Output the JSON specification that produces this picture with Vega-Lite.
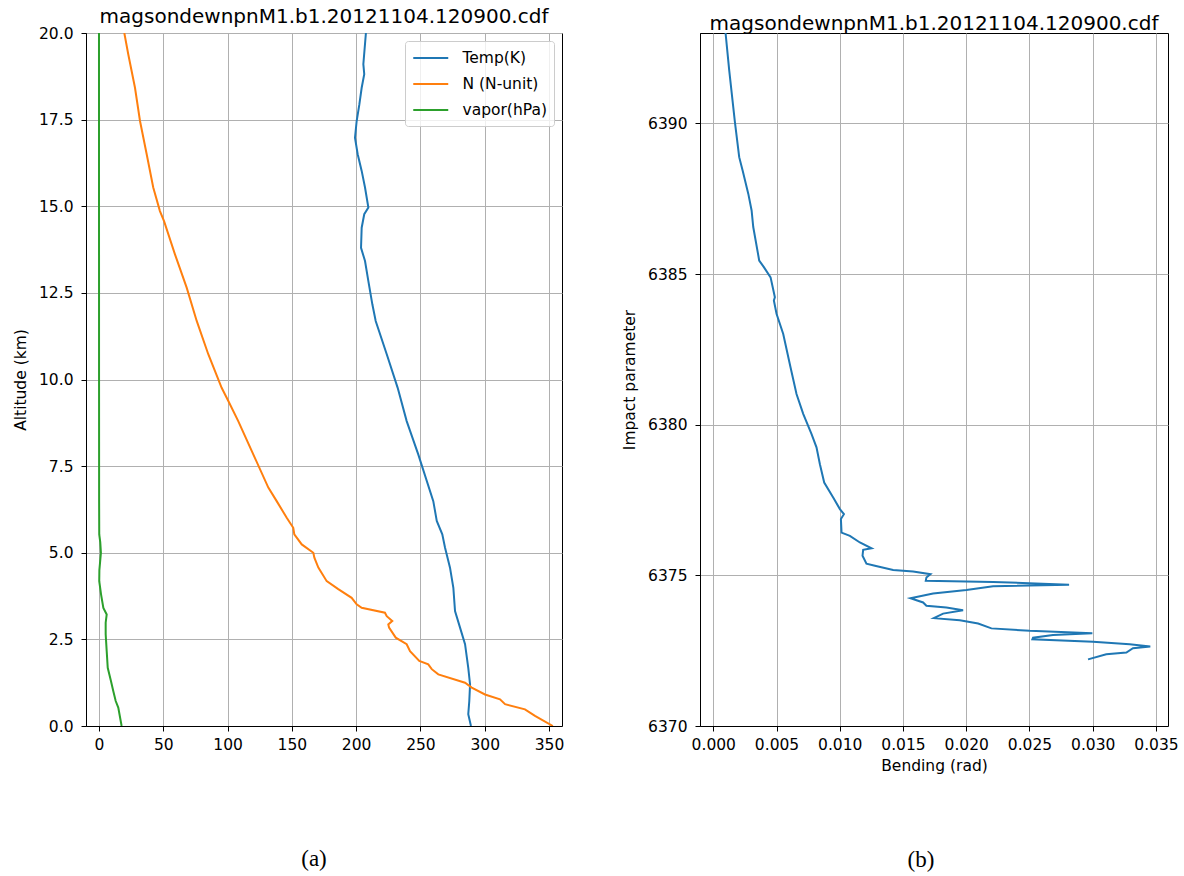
{
  "$schema": "https://vega.github.io/schema/vega-lite/v6.json",
  "padding": {"left": 12, "top": 6, "right": 5, "bottom": 5},
  "background": "white",
  "spacing": 57,
  "config": {
    "view": {"stroke": "black", "strokeWidth": 1},
    "axis": {
      "grid": true, "gridColor": "#b0b0b0", "gridWidth": 1, "gridOpacity": 1,
      "domainColor": "black", "domainWidth": 1,
      "tickColor": "black", "tickSize": 5, "tickWidth": 1,
      "labelFont": "DejaVu Sans", "labelFontSize": 15.5, "labelColor": "black",
      "labelFlush": false, "labelOverlap": false,
      "titleFont": "DejaVu Sans", "titleFontSize": 15.5, "titleFontWeight": "normal", "titleColor": "black", "titlePadding": 10
    },
    "axisX": {"labelPadding": 6, "titlePadding": 6},
    "axisY": {"labelPadding": 8}
  },
  "datasets": {
    "profile": [
      {"series": "Temp(K)", "alt": 0.0, "value": 289.3},
      {"series": "Temp(K)", "alt": 0.34, "value": 287.2},
      {"series": "Temp(K)", "alt": 0.72, "value": 288.0},
      {"series": "Temp(K)", "alt": 1.2, "value": 288.6},
      {"series": "Temp(K)", "alt": 1.68, "value": 287.2},
      {"series": "Temp(K)", "alt": 2.36, "value": 284.7},
      {"series": "Temp(K)", "alt": 2.84, "value": 280.8},
      {"series": "Temp(K)", "alt": 3.32, "value": 276.9},
      {"series": "Temp(K)", "alt": 3.99, "value": 275.6},
      {"series": "Temp(K)", "alt": 4.57, "value": 273.0},
      {"series": "Temp(K)", "alt": 5.15, "value": 269.1},
      {"series": "Temp(K)", "alt": 5.53, "value": 267.0},
      {"series": "Temp(K)", "alt": 5.92, "value": 262.7},
      {"series": "Temp(K)", "alt": 6.49, "value": 260.0},
      {"series": "Temp(K)", "alt": 7.84, "value": 248.3},
      {"series": "Temp(K)", "alt": 8.8, "value": 239.3},
      {"series": "Temp(K)", "alt": 9.76, "value": 232.3},
      {"series": "Temp(K)", "alt": 10.73, "value": 223.8},
      {"series": "Temp(K)", "alt": 11.69, "value": 215.2},
      {"series": "Temp(K)", "alt": 12.17, "value": 212.6},
      {"series": "Temp(K)", "alt": 12.84, "value": 209.5},
      {"series": "Temp(K)", "alt": 13.42, "value": 206.9},
      {"series": "Temp(K)", "alt": 13.8, "value": 203.8},
      {"series": "Temp(K)", "alt": 14.38, "value": 204.3},
      {"series": "Temp(K)", "alt": 14.77, "value": 206.3},
      {"series": "Temp(K)", "alt": 14.96, "value": 209.5},
      {"series": "Temp(K)", "alt": 15.54, "value": 206.9},
      {"series": "Temp(K)", "alt": 16.02, "value": 204.3},
      {"series": "Temp(K)", "alt": 16.5, "value": 201.2},
      {"series": "Temp(K)", "alt": 16.98, "value": 199.1},
      {"series": "Temp(K)", "alt": 17.46, "value": 200.4},
      {"series": "Temp(K)", "alt": 17.94, "value": 202.5},
      {"series": "Temp(K)", "alt": 18.42, "value": 204.3},
      {"series": "Temp(K)", "alt": 18.81, "value": 206.3},
      {"series": "Temp(K)", "alt": 19.1, "value": 205.6},
      {"series": "Temp(K)", "alt": 20.0, "value": 207.6},
      {"series": "N (N-unit)", "alt": 0.0, "value": 353.0},
      {"series": "N (N-unit)", "alt": 0.29, "value": 339.1},
      {"series": "N (N-unit)", "alt": 0.48, "value": 331.3},
      {"series": "N (N-unit)", "alt": 0.63, "value": 315.8},
      {"series": "N (N-unit)", "alt": 0.77, "value": 311.9},
      {"series": "N (N-unit)", "alt": 0.91, "value": 300.2},
      {"series": "N (N-unit)", "alt": 1.11, "value": 289.9},
      {"series": "N (N-unit)", "alt": 1.25, "value": 284.7},
      {"series": "N (N-unit)", "alt": 1.49, "value": 263.9},
      {"series": "N (N-unit)", "alt": 1.64, "value": 258.8},
      {"series": "N (N-unit)", "alt": 1.78, "value": 256.1},
      {"series": "N (N-unit)", "alt": 1.88, "value": 249.1},
      {"series": "N (N-unit)", "alt": 2.16, "value": 241.9},
      {"series": "N (N-unit)", "alt": 2.36, "value": 239.3},
      {"series": "N (N-unit)", "alt": 2.55, "value": 230.8},
      {"series": "N (N-unit)", "alt": 2.84, "value": 225.6},
      {"series": "N (N-unit)", "alt": 2.93, "value": 225.0},
      {"series": "N (N-unit)", "alt": 3.03, "value": 228.1},
      {"series": "N (N-unit)", "alt": 3.17, "value": 223.8},
      {"series": "N (N-unit)", "alt": 3.27, "value": 222.4},
      {"series": "N (N-unit)", "alt": 3.41, "value": 204.3},
      {"series": "N (N-unit)", "alt": 3.51, "value": 200.4},
      {"series": "N (N-unit)", "alt": 3.7, "value": 196.5},
      {"series": "N (N-unit)", "alt": 3.95, "value": 186.1},
      {"series": "N (N-unit)", "alt": 4.18, "value": 177.1},
      {"series": "N (N-unit)", "alt": 4.57, "value": 170.6},
      {"series": "N (N-unit)", "alt": 4.86, "value": 167.5},
      {"series": "N (N-unit)", "alt": 5.0, "value": 166.7},
      {"series": "N (N-unit)", "alt": 5.24, "value": 157.7},
      {"series": "N (N-unit)", "alt": 5.53, "value": 151.9},
      {"series": "N (N-unit)", "alt": 5.72, "value": 151.1},
      {"series": "N (N-unit)", "alt": 6.01, "value": 146.0},
      {"series": "N (N-unit)", "alt": 6.49, "value": 138.2},
      {"series": "N (N-unit)", "alt": 6.88, "value": 131.7},
      {"series": "N (N-unit)", "alt": 7.84, "value": 120.0},
      {"series": "N (N-unit)", "alt": 8.8, "value": 108.3},
      {"series": "N (N-unit)", "alt": 9.38, "value": 100.6},
      {"series": "N (N-unit)", "alt": 9.76, "value": 95.4},
      {"series": "N (N-unit)", "alt": 10.73, "value": 85.0},
      {"series": "N (N-unit)", "alt": 11.69, "value": 76.0},
      {"series": "N (N-unit)", "alt": 12.65, "value": 68.2},
      {"series": "N (N-unit)", "alt": 13.61, "value": 59.1},
      {"series": "N (N-unit)", "alt": 14.57, "value": 50.6},
      {"series": "N (N-unit)", "alt": 14.86, "value": 47.4},
      {"series": "N (N-unit)", "alt": 15.54, "value": 42.2},
      {"series": "N (N-unit)", "alt": 16.5, "value": 37.1},
      {"series": "N (N-unit)", "alt": 17.46, "value": 31.9},
      {"series": "N (N-unit)", "alt": 18.42, "value": 28.0},
      {"series": "N (N-unit)", "alt": 19.38, "value": 22.8},
      {"series": "N (N-unit)", "alt": 20.0, "value": 19.7},
      {"series": "vapor(hPa)", "alt": 0.0, "value": 17.6},
      {"series": "vapor(hPa)", "alt": 0.53, "value": 15.0},
      {"series": "vapor(hPa)", "alt": 0.72, "value": 13.0},
      {"series": "vapor(hPa)", "alt": 1.01, "value": 11.1},
      {"series": "vapor(hPa)", "alt": 1.3, "value": 9.3},
      {"series": "vapor(hPa)", "alt": 1.68, "value": 6.8},
      {"series": "vapor(hPa)", "alt": 2.16, "value": 6.0},
      {"series": "vapor(hPa)", "alt": 2.65, "value": 5.2},
      {"series": "vapor(hPa)", "alt": 2.98, "value": 5.2},
      {"series": "vapor(hPa)", "alt": 3.22, "value": 6.0},
      {"series": "vapor(hPa)", "alt": 3.41, "value": 3.4},
      {"series": "vapor(hPa)", "alt": 3.8, "value": 1.6},
      {"series": "vapor(hPa)", "alt": 4.18, "value": 0.2},
      {"series": "vapor(hPa)", "alt": 4.5, "value": 0.3},
      {"series": "vapor(hPa)", "alt": 5.0, "value": 1.5},
      {"series": "vapor(hPa)", "alt": 5.3, "value": 1.0},
      {"series": "vapor(hPa)", "alt": 5.53, "value": 0.2},
      {"series": "vapor(hPa)", "alt": 6.49, "value": 0.1},
      {"series": "vapor(hPa)", "alt": 10.0, "value": 0.05},
      {"series": "vapor(hPa)", "alt": 20.0, "value": 0.0}
    ],
    "bending": [
      {"i": 1, "impact": 6393.0, "bending": 0.00097},
      {"i": 2, "impact": 6391.76, "bending": 0.00126},
      {"i": 3, "impact": 6390.04, "bending": 0.00171},
      {"i": 4, "impact": 6388.88, "bending": 0.00205},
      {"i": 5, "impact": 6388.44, "bending": 0.00232},
      {"i": 6, "impact": 6387.66, "bending": 0.00277},
      {"i": 7, "impact": 6387.11, "bending": 0.00303},
      {"i": 8, "impact": 6386.56, "bending": 0.00316},
      {"i": 9, "impact": 6385.45, "bending": 0.00363},
      {"i": 10, "impact": 6385.23, "bending": 0.004},
      {"i": 11, "impact": 6384.89, "bending": 0.00453},
      {"i": 12, "impact": 6384.23, "bending": 0.00487},
      {"i": 13, "impact": 6384.12, "bending": 0.00479},
      {"i": 14, "impact": 6383.68, "bending": 0.005},
      {"i": 15, "impact": 6383.01, "bending": 0.00553},
      {"i": 16, "impact": 6381.9, "bending": 0.00611},
      {"i": 17, "impact": 6381.02, "bending": 0.00658},
      {"i": 18, "impact": 6380.36, "bending": 0.00711},
      {"i": 19, "impact": 6379.69, "bending": 0.00777},
      {"i": 20, "impact": 6379.25, "bending": 0.00816},
      {"i": 21, "impact": 6378.69, "bending": 0.00843},
      {"i": 22, "impact": 6378.08, "bending": 0.00877},
      {"i": 23, "impact": 6377.58, "bending": 0.00948},
      {"i": 24, "impact": 6377.2, "bending": 0.01001},
      {"i": 25, "impact": 6377.03, "bending": 0.01033},
      {"i": 26, "impact": 6376.87, "bending": 0.01009},
      {"i": 27, "impact": 6376.42, "bending": 0.01014},
      {"i": 28, "impact": 6376.31, "bending": 0.0108},
      {"i": 29, "impact": 6376.09, "bending": 0.01159},
      {"i": 30, "impact": 6375.9, "bending": 0.01251},
      {"i": 31, "impact": 6375.85, "bending": 0.01185},
      {"i": 32, "impact": 6375.65, "bending": 0.0118},
      {"i": 33, "impact": 6375.39, "bending": 0.01211},
      {"i": 34, "impact": 6375.32, "bending": 0.01278},
      {"i": 35, "impact": 6375.18, "bending": 0.01422},
      {"i": 36, "impact": 6375.13, "bending": 0.0158},
      {"i": 37, "impact": 6375.04, "bending": 0.01717},
      {"i": 38, "impact": 6374.93, "bending": 0.01685},
      {"i": 39, "impact": 6374.82, "bending": 0.0168},
      {"i": 40, "impact": 6374.78, "bending": 0.02212},
      {"i": 41, "impact": 6374.69, "bending": 0.02813},
      {"i": 42, "impact": 6374.64, "bending": 0.02212},
      {"i": 43, "impact": 6374.51, "bending": 0.02001},
      {"i": 44, "impact": 6374.4, "bending": 0.01738},
      {"i": 45, "impact": 6374.24, "bending": 0.01559},
      {"i": 46, "impact": 6374.1, "bending": 0.01659},
      {"i": 47, "impact": 6373.99, "bending": 0.01685},
      {"i": 48, "impact": 6373.93, "bending": 0.01843},
      {"i": 49, "impact": 6373.84, "bending": 0.01975},
      {"i": 50, "impact": 6373.73, "bending": 0.01817},
      {"i": 51, "impact": 6373.58, "bending": 0.01744},
      {"i": 52, "impact": 6373.51, "bending": 0.01949},
      {"i": 53, "impact": 6373.4, "bending": 0.02094},
      {"i": 54, "impact": 6373.24, "bending": 0.02199},
      {"i": 55, "impact": 6373.16, "bending": 0.02502},
      {"i": 56, "impact": 6373.08, "bending": 0.02997},
      {"i": 57, "impact": 6373.02, "bending": 0.02686},
      {"i": 58, "impact": 6372.93, "bending": 0.02528},
      {"i": 59, "impact": 6372.88, "bending": 0.02523},
      {"i": 60, "impact": 6372.8, "bending": 0.03002},
      {"i": 61, "impact": 6372.71, "bending": 0.03292},
      {"i": 62, "impact": 6372.64, "bending": 0.03455},
      {"i": 63, "impact": 6372.58, "bending": 0.03318},
      {"i": 64, "impact": 6372.44, "bending": 0.03266},
      {"i": 65, "impact": 6372.38, "bending": 0.03107},
      {"i": 66, "impact": 6372.21, "bending": 0.02963}
    ]
  },
  "hconcat": [
    {
      "title": {"text": "(a)", "orient": "bottom", "anchor": "middle", "frame": "group", "dx": 228, "offset": 95, "font": "Liberation Serif", "fontSize": 23, "fontWeight": "normal", "color": "black"},
      "resolve": {"legend": {"color": "independent"}, "scale": {"color": "independent"}},
      "vconcat": [
        {
          "title": {"text": "magsondewnpnM1.b1.20121104.120900.cdf", "anchor": "middle", "frame": "group", "offset": -17, "baseline": "alphabetic", "font": "DejaVu Sans", "fontSize": 20, "fontWeight": "normal", "color": "black"},
          "width": 476,
          "height": 693,
          "data": {"name": "profile"},
          "mark": {"type": "line", "strokeWidth": 2, "clip": true},
          "encoding": {
            "x": {"field": "value", "type": "quantitative", "scale": {"domain": [-10.1, 360.1], "nice": false, "zero": false}, "axis": {"title": null, "values": [0, 50, 100, 150, 200, 250, 300, 350]}},
            "y": {"field": "alt", "type": "quantitative", "scale": {"domain": [0, 20], "nice": false}, "axis": {"title": "Altitude (km)", "values": [0, 2.5, 5, 7.5, 10, 12.5, 15, 17.5, 20], "format": ".1f"}},
            "color": {"field": "series", "type": "nominal", "scale": {"domain": ["Temp(K)", "N (N-unit)", "vapor(hPa)"], "range": ["#1f77b4", "#ff7f0e", "#2ca02c"]},
              "legend": {"title": null, "orient": "top-right", "offset": 8, "padding": 7, "fillColor": "rgba(255,255,255,0.8)", "strokeColor": "#cccccc", "cornerRadius": 3, "symbolType": "M-1,0H3", "symbolSize": 306, "symbolStrokeWidth": 2, "labelFont": "DejaVu Sans", "labelFontSize": 15.5, "labelColor": "black", "labelOffset": 30.5, "rowPadding": 7}},
            "order": {"field": "alt", "type": "quantitative"}
          }
        }
      ]
    },
    {
      "title": {"text": "(b)", "orient": "bottom", "anchor": "middle", "frame": "group", "dx": 221, "offset": 74, "font": "Liberation Serif", "fontSize": 23, "fontWeight": "normal", "color": "black"},
      "vconcat": [
        {
          "title": {"text": "magsondewnpnM1.b1.20121104.120900.cdf", "anchor": "middle", "frame": "group", "offset": -17, "baseline": "alphabetic", "font": "DejaVu Sans", "fontSize": 20, "fontWeight": "normal", "color": "black"},
          "width": 468,
          "height": 693,
          "data": {"name": "bending"},
          "mark": {"type": "line", "strokeWidth": 2, "color": "#1f77b4", "clip": true},
          "encoding": {
            "x": {"field": "bending", "type": "quantitative", "scale": {"domain": [-0.00105, 0.03595], "nice": false, "zero": false}, "axis": {"title": "Bending (rad)", "values": [0, 0.005, 0.01, 0.015, 0.02, 0.025, 0.03, 0.035], "format": ".3f"}},
            "y": {"field": "impact", "type": "quantitative", "scale": {"domain": [6370, 6393], "nice": false, "zero": false}, "axis": {"title": "Impact parameter", "values": [6370, 6375, 6380, 6385, 6390], "format": "d"}},
            "order": {"field": "i", "type": "quantitative"}
          }
        }
      ]
    }
  ]
}
